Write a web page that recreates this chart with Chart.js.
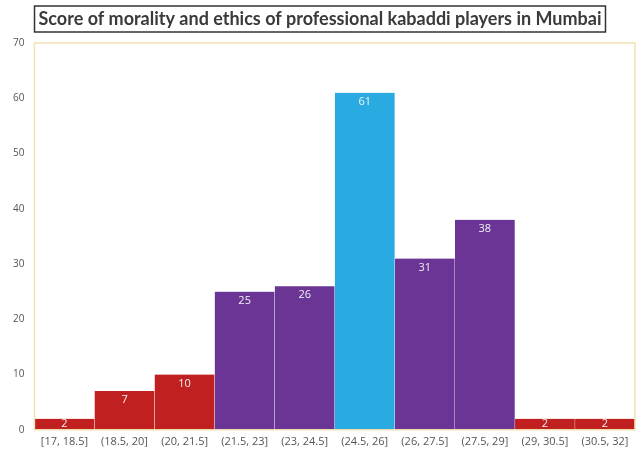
<!DOCTYPE html>
<html>
<head>
<meta charset="utf-8">
<script src="https://cdn.jsdelivr.net/npm/chart.js@4/dist/chart.umd.min.js"></script>
<style>
  html, body { margin: 0; padding: 0; background: #fff; }
  #wrap { width: 638px; height: 453px; }
</style>
</head>
<body>
<div id="wrap"><canvas id="c" width="638" height="453"></canvas></div>
<script>
// Score intervals and number of players in each
const categories = ['[17, 18.5]', '(18.5, 20]', '(20, 21.5]', '(21.5, 23]', '(23, 24.5]',
  '(24.5, 26]', '(26, 27.5]', '(27.5, 29]', '(29, 30.5]', '(30.5, 32]'];
const counts = [2, 7, 10, 25, 26, 61, 31, 38, 2, 2];
// Band for each interval: low / middle / peak
const bands = ['low', 'low', 'low', 'mid', 'mid', 'peak', 'mid', 'mid', 'low', 'low'];
const yTicks = [0, 10, 20, 30, 40, 50, 60, 70];

const bandColors = { low: '#C0201F', mid: '#6A3594', peak: '#29ABE2' };
const titleText = 'Score of morality and ethics of professional kabaddi players in Mumbai';

// Boxed title, plot frame and value labels
const decorations = {
  id: 'decorations',
  afterDraw(chart) {
    const { ctx, chartArea } = chart;
    ctx.save();
    // frame around the plot area
    ctx.strokeStyle = '#F3E2B3';
    ctx.lineWidth = 1.5;
    ctx.strokeRect(chartArea.left, chartArea.top, chartArea.right - chartArea.left, chartArea.bottom - chartArea.top);

    // title with box
    ctx.font = 'bold 18px Lato, sans-serif';
    ctx.fillStyle = '#3a3a3a';
    ctx.textAlign = 'center';
    ctx.textBaseline = 'middle';
    const tx = 320, ty = 19;
    const w = ctx.measureText(titleText).width;
    ctx.fillText(titleText, tx, ty);
    ctx.strokeStyle = '#333';
    ctx.lineWidth = 1.5;
    ctx.strokeRect(tx - w / 2 - 4, ty - 13, w + 8, 26);

    // value labels inside the top of each bar
    const meta = chart.getDatasetMeta(0);
    ctx.font = '11px "Open Sans", sans-serif';
    ctx.fillStyle = '#F2F2F2';
    meta.data.forEach((bar, i) => {
      const y = Math.min(bar.y + 9, (bar.y + bar.base) / 2);
      ctx.fillText(String(counts[i]), bar.x, y);
    });
    ctx.restore();
  }
};

new Chart(document.getElementById('c'), {
  type: 'bar',
  data: {
    labels: categories,
    datasets: [{
      data: counts,
      backgroundColor: bands.map(b => bandColors[b]),
      borderColor: 'rgba(255,255,255,0.35)',
      borderWidth: { left: 0.5, right: 0.5, top: 0, bottom: 0 },
      categoryPercentage: 1.0,
      barPercentage: 1.0
    }]
  },
  options: {
    responsive: false,
    animation: false,
    layout: { padding: { top: 43, right: 3, left: 3, bottom: 0 } },
    plugins: { legend: { display: false }, tooltip: { enabled: false }, title: { display: false } },
    scales: {
      x: {
        grid: { display: false, drawTicks: false },
        border: { display: false },
        ticks: { color: '#555', font: { size: 11, family: '"Open Sans", sans-serif' }, maxRotation: 0, autoSkip: false, padding: 5 }
      },
      y: {
        min: 0, max: 70,
        afterBuildTicks(axis) { axis.ticks = yTicks.map(v => ({ value: v })); },
        grid: { display: false, drawTicks: false },
        border: { display: false },
        ticks: { color: '#555', font: { size: 10, family: '"Open Sans", sans-serif' }, padding: 10 }
      }
    }
  },
  plugins: [decorations]
});
</script>
</body>
</html>
